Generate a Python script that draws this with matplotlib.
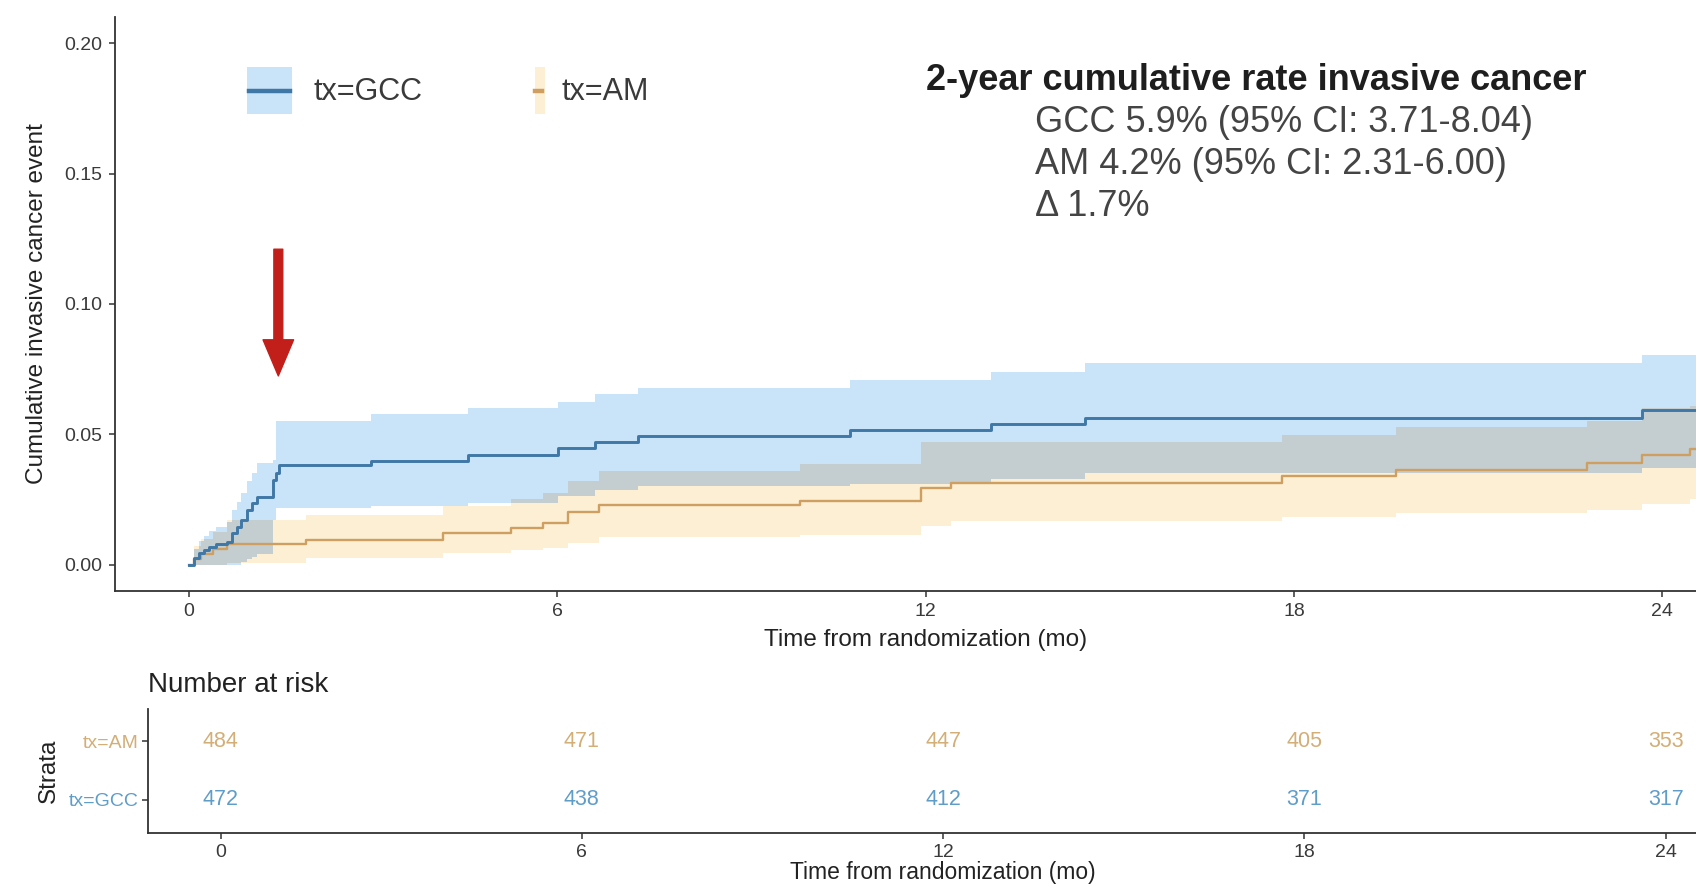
import numpy as np
import matplotlib
matplotlib.use("Agg")
import matplotlib.pyplot as plt
from matplotlib.patches import Rectangle
from matplotlib.lines import Line2D

plt.rcParams["font.family"] = ["Liberation Sans", "DejaVu Sans"]

# ---- Cumulative incidence, GCC arm (event times in months) ----
gcc_time = [0, 0.09, 0.17, 0.25, 0.33, 0.45, 0.62, 0.70, 0.78, 0.86, 0.95, 1.03,
            1.12, 1.38, 1.42, 1.47, 2.97, 4.55, 6.02, 6.61, 7.32, 10.77, 13.07,
            14.60, 23.67]
gcc_est = [0, 0.0024, 0.0043, 0.0056, 0.0069, 0.0078, 0.0088, 0.0120, 0.0145,
           0.0171, 0.0210, 0.0235, 0.0260, 0.0325, 0.0350, 0.0382, 0.0399, 0.0420,
           0.0446, 0.0472, 0.0493, 0.0517, 0.0540, 0.0562, 0.0593]
gcc_lower = [0, 0, 0, 0, 0, 0, 0, 0, 0, 0.0010, 0.0020, 0.0030, 0.0040, 0.0060,
             0.0216, 0.0216, 0.0226, 0.0235, 0.0262, 0.0286, 0.0300, 0.0309,
             0.0330, 0.0350, 0.0371]
gcc_upper = [0, 0.0060, 0.0090, 0.0110, 0.0130, 0.0145, 0.0165, 0.0210, 0.0240,
             0.0275, 0.0320, 0.0350, 0.0390, 0.0400, 0.0552, 0.0552, 0.0578,
             0.0599, 0.0625, 0.0655, 0.0678, 0.0708, 0.0740, 0.0772, 0.0804]

# ---- Cumulative incidence, AM arm ----
am_time = [0, 0.08, 0.20, 0.40, 0.62, 1.91, 4.14, 5.25, 5.77, 6.18, 6.69, 9.95,
           11.93, 12.42, 17.80, 19.66, 22.78, 23.67, 24.45]
am_est = [0, 0.0021, 0.0041, 0.0060, 0.0079, 0.0096, 0.0120, 0.0139, 0.0161,
          0.0203, 0.0229, 0.0246, 0.0293, 0.0314, 0.0340, 0.0363, 0.0389, 0.0420,
          0.0445]
am_lower = [0, 0, 0, 0, 0.0005, 0.0025, 0.0043, 0.0055, 0.0065, 0.0082, 0.0105,
            0.0113, 0.0150, 0.0166, 0.0184, 0.0197, 0.0210, 0.0231, 0.0250]
am_upper = [0, 0.0070, 0.0100, 0.0125, 0.0170, 0.0190, 0.0225, 0.0250, 0.0274,
            0.0320, 0.0360, 0.0386, 0.0472, 0.0472, 0.0497, 0.0529, 0.0550,
            0.0600, 0.0610]

follow_up_end = 25.2

# ---- Number at risk ----
risk_times = [0, 6, 12, 18, 24]
risk_am = [484, 471, 447, 405, 353]
risk_gcc = [472, 438, 412, 371, 317]

summary_title = "2-year cumulative rate invasive cancer"
summary_lines = ["GCC 5.9% (95% CI: 3.71-8.04)",
                 "AM 4.2% (95% CI: 2.31-6.00)",
                 "\u0394 1.7%"]

BLUE_LINE = "#3f77a6"
BLUE_FILL = "#c9e4f8"
ORANGE_LINE = "#cf9f62"
ORANGE_FILL = "#fcefd3"
OVERLAP_FILL = "#c4ced0"
BLUE_TEXT = "#5f9dc9"
ORANGE_TEXT = "#d3ae76"
AXIS_COL = "#333333"

W, H = 1696, 886


def fx(px):
    return px / W


def fy(py):
    return 1 - py / H


def step_eval(times, values, grid):
    idx = np.searchsorted(np.asarray(times), grid, side="right") - 1
    return np.asarray(values)[np.clip(idx, 0, len(values) - 1)]


fig = plt.figure(figsize=(W / 100, H / 100), dpi=100)
fig.patch.set_facecolor("white")

# ---------------- main cumulative incidence panel ----------------
ax = fig.add_axes([fx(115), fy(590.7), fx(1736 - 115), (590.7 - 17.2) / H])
ax.set_xlim(-1.2, 25.2)
ax.set_ylim(-0.01, 0.21)

grid = np.unique(np.concatenate([gcc_time, am_time, [follow_up_end]]))
g_est = step_eval(gcc_time, gcc_est, grid)
g_lo = step_eval(gcc_time, gcc_lower, grid)
g_hi = step_eval(gcc_time, gcc_upper, grid)
a_est = step_eval(am_time, am_est, grid)
a_lo = step_eval(am_time, am_lower, grid)
a_hi = step_eval(am_time, am_upper, grid)

ax.fill_between(grid, g_lo, g_hi, step="post", color=BLUE_FILL, lw=0, zorder=1)
ax.fill_between(grid, a_lo, a_hi, step="post", color=ORANGE_FILL, lw=0, zorder=1)
ov_lo = np.maximum(g_lo, a_lo)
ov_hi = np.minimum(g_hi, a_hi)
ax.fill_between(grid, ov_lo, ov_hi, where=ov_hi > ov_lo, step="post",
                color=OVERLAP_FILL, lw=0, zorder=2, interpolate=False)

ax.step(grid, a_est, where="post", color=ORANGE_LINE, lw=1.7, zorder=3)
ax.step(grid, g_est, where="post", color=BLUE_LINE, lw=2.1, zorder=4)

ax.set_xticks([0, 6, 12, 18, 24])
ax.set_yticks([0, 0.05, 0.10, 0.15, 0.20])
ax.set_yticklabels(["0.00", "0.05", "0.10", "0.15", "0.20"])
for s in ["top", "right"]:
    ax.spines[s].set_visible(False)
for s in ["left", "bottom"]:
    ax.spines[s].set_color(AXIS_COL)
    ax.spines[s].set_linewidth(1.3)
ax.tick_params(axis="both", length=4, width=1.1, color=AXIS_COL,
               labelsize=14, labelcolor="#3a3a3a", pad=5)
ax.set_xlabel("Time from randomization (mo)", fontsize=17.5, color="#222222",
              labelpad=6)
ax.set_ylabel("Cumulative invasive cancer event", fontsize=17.5,
              color="#222222", labelpad=12)

# arrow pointing at the early jump of the GCC curve
ax.annotate("", xy=(1.46, 0.0724), xytext=(1.46, 0.121),
            arrowprops=dict(arrowstyle="simple,head_width=1.1,head_length=1.3,tail_width=0.32",
                            color="#c21f1a", shrinkA=0, shrinkB=0,
                            mutation_scale=20), zorder=5)

# legend keys
fig.add_artist(Rectangle((fx(246.6), fy(113.6)), fx(292 - 246.6), (113.6 - 67) / H,
                         transform=fig.transFigure, facecolor=BLUE_FILL,
                         edgecolor="none"))
fig.add_artist(Line2D([fx(249), fx(290)], [fy(90.5), fy(90.5)],
                      transform=fig.transFigure, color=BLUE_LINE, lw=3.2))
fig.text(fx(313), fy(92), "tx=GCC", fontsize=22, color="#3a3a3a",
         ha="left", va="center")
fig.add_artist(Rectangle((fx(535), fy(113.6)), fx(10), (113.6 - 67) / H,
                         transform=fig.transFigure, facecolor=ORANGE_FILL,
                         edgecolor="none"))
fig.add_artist(Line2D([fx(535), fx(542)], [fy(90.5), fy(90.5)],
                      transform=fig.transFigure, color=ORANGE_LINE, lw=3.2))
fig.text(fx(562), fy(92), "tx=AM", fontsize=22, color="#3a3a3a",
         ha="left", va="center")

# summary text
fig.text(fx(926), fy(80), summary_title, fontsize=26, fontweight="bold",
         color="#1e1e1e", ha="left", va="center")
for i, line in enumerate(summary_lines):
    fig.text(fx(1035), fy(122 + 42 * i), line, fontsize=26, color="#444444",
             ha="left", va="center")

# ---------------- number-at-risk table ----------------
axr = fig.add_axes([fx(148.3), fy(832.8), fx(1737.9 - 148.3), (832.8 - 708.5) / H])
axr.set_xlim(-1.2, 25.2)
axr.set_ylim(0.43, 2.56)
for t, n in zip(risk_times, risk_am):
    axr.text(t, 2, str(n), ha="center", va="center", fontsize=15.5,
             color=ORANGE_TEXT)
for t, n in zip(risk_times, risk_gcc):
    axr.text(t, 1, str(n), ha="center", va="center", fontsize=15.5,
             color=BLUE_TEXT)
axr.set_xticks(risk_times)
axr.set_yticks([1, 2])
axr.set_yticklabels(["tx=GCC", "tx=AM"])
for lbl, c in zip(axr.get_yticklabels(), [BLUE_TEXT, ORANGE_TEXT]):
    lbl.set_color(c)
for s in ["top", "right"]:
    axr.spines[s].set_visible(False)
for s in ["left", "bottom"]:
    axr.spines[s].set_color(AXIS_COL)
    axr.spines[s].set_linewidth(1.3)
axr.tick_params(axis="both", length=4, width=1.1, color=AXIS_COL,
                labelsize=14, pad=4)
axr.tick_params(axis="x", labelcolor="#3a3a3a")
axr.tick_params(axis="y", labelsize=14, pad=3)
axr.set_xlabel("Time from randomization (mo)", fontsize=16.5, color="#222222",
               labelpad=0)
axr.set_ylabel("Strata", fontsize=17.5, color="#222222", labelpad=6)
axr.set_title("Number at risk", loc="left", fontsize=20, color="#222222", pad=12)

fig.savefig("out.png", dpi=100, facecolor="white")
